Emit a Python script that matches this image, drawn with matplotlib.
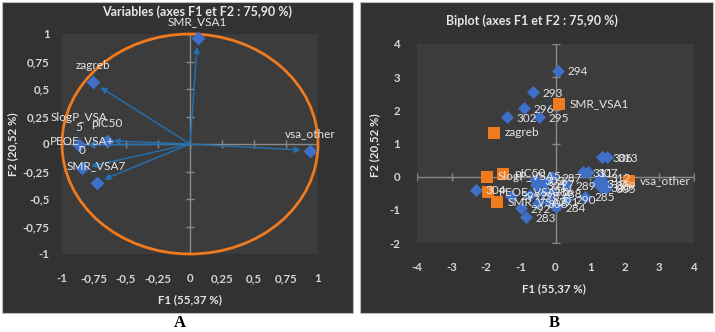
import matplotlib
matplotlib.use('Agg')
import matplotlib.pyplot as plt
from matplotlib.patches import Circle, Rectangle

# ---------------- data ----------------
# Panel A : correlation circle (variables)
var_names = ['SMR_VSA1', 'zagreb', 'vsa_other', 'pIC50', 'SlogP_VSA\n5', 'PEOE_VSA+\n0', 'SMR_VSA7']
var_f1 = [0.06, -0.76, 0.94, -0.65, -0.87, -0.84, -0.73]
var_f2 = [0.96, 0.56, -0.06, 0.03, -0.01, -0.22, -0.35]

a_ticks = [-1, -0.75, -0.5, -0.25, 0, 0.25, 0.5, 0.75, 1]
a_ticklabels = ['-1', '-0,75', '-0,5', '-0,25', '0', '0,25', '0,5', '0,75', '1']

# Panel B : biplot (observations + variables)
obs_labels = ['283', '284', '285', '286', '287', '288', '289', '290', '291', '292',
              '293', '294', '295', '296', '297', '298', '299', '300', '301', '302',
              '303', '304', '305', '306', '307', '308', '309', '310', '311', '312', '313']
obs_f1 = [-0.85, 0.00, 0.85, -0.35, -0.10, -0.10, 0.30, 0.30, -0.20, -1.00,
          -0.65, 0.07, -0.48, -0.91, -0.30, -0.75, -1.29, 1.30, -0.55, -1.40,
          -0.60, -2.30, 1.45, 1.35, 0.94, -0.50, 1.45, 1.20, 0.80, 1.30, 1.50]
obs_f2 = [-1.22, -0.92, -0.60, -0.45, 0.00, -0.50, -0.25, -0.68, -0.75, -0.95,
          2.55, 3.20, 1.79, 2.06, -0.20, -0.55, -0.57, -0.30, -0.25, 1.79,
          -0.10, -0.39, -0.35, 0.60, 0.14, -0.80, -0.25, -0.20, 0.14, -0.02, 0.60]

bvar_names = ['SMR_VSA1', 'zagreb', 'vsa_other', 'pIC50', 'SlogP_VSA5', 'PEOE_VSA+0', 'SMR_VSA7']
bvar_f1 = [0.10, -1.78, 2.12, -1.52, -1.98, -1.95, -1.70]
bvar_f2 = [2.20, 1.33, -0.12, 0.09, 0.00, -0.45, -0.76]

b_xticks = [-4, -3, -2, -1, 0, 1, 2, 3, 4]
b_yticks = [-2, -1, 0, 1, 2, 3, 4]

# ---------------- style ----------------
plt.rcParams['font.family'] = ['Lato', 'DejaVu Sans']
W, H = 715, 332
fig = plt.figure(figsize=(W / 100, H / 100), dpi=100)
fig.patch.set_facecolor('white')

PANEL = '#323232'
PLOT = '#3c3c3c'
TXT = '#e6e6e6'
TICK = '#d4d4d4'
AXL = '#8a8a8a'
BLUE = '#3f6fc6'
ARROW = '#2272b6'
ORANGE = '#f07a1e'


def fx(px):
    return px / W


def fy(py):
    return 1 - py / H


# panel backgrounds
for x0, x1 in [(2, 353), (360, 713)]:
    fig.patches.append(Rectangle((fx(x0), fy(313)), fx(x1) - fx(x0), fy(2) - fy(313),
                                 transform=fig.transFigure, facecolor=PANEL,
                                 edgecolor='#bdbdbd', lw=0.8, zorder=-5))


def style_axes(ax, xt, xtl, yt, ytl, xlim, ylim, xpad, ypad):
    ax.set_facecolor(PLOT)
    for s in ax.spines.values():
        s.set_visible(False)
    ax.set_xlim(*xlim)
    ax.set_ylim(*ylim)
    ax.set_xticks(xt)
    ax.set_xticklabels(xtl)
    ax.set_yticks(yt)
    ax.set_yticklabels(ytl)
    ax.tick_params(length=0, colors=TICK, labelsize=8.3)
    ax.tick_params(axis='x', pad=xpad)
    ax.tick_params(axis='y', pad=ypad)
    for lab in ax.get_xticklabels() + ax.get_yticklabels():
        lab.set_fontweight('bold')
    # axis lines through origin with crossing tick marks
    ax.plot(xlim, [0, 0], color=AXL, lw=1.0, zorder=1)
    ax.plot([0, 0], ylim, color=AXL, lw=1.0, zorder=1)
    ax.plot(xt, [0] * len(xt), ls='none', marker='|', ms=6, mew=1.0, color=AXL, zorder=1)
    ax.plot([0] * len(yt), yt, ls='none', marker='_', ms=6, mew=1.0, color=AXL, zorder=1)


# ---------------- Panel A ----------------
axA = fig.add_axes([fx(62), fy(254), fx(318) - fx(62), fy(34) - fy(254)])
style_axes(axA, a_ticks, a_ticklabels, a_ticks, a_ticklabels, (-1, 1), (-1, 1), 14, 9)
axA.add_patch(Circle((0, 0), 1, fill=False, edgecolor=ORANGE, lw=2.0, zorder=2, clip_on=False))
for x, y in zip(var_f1, var_f2):
    axA.annotate('', xy=(0.92 * x, 0.92 * y), xytext=(0, 0),
                 arrowprops=dict(arrowstyle='-|>', color=ARROW, lw=1.0,
                                 mutation_scale=9, shrinkA=0, shrinkB=0), zorder=3)
axA.scatter(var_f1, var_f2, marker='D', s=50, color=BLUE, zorder=4, linewidths=0, clip_on=False)
for name, x, y in zip(var_names, var_f1, var_f2):
    axA.annotate(name, (x, y), xytext=(0, 8.5), textcoords='offset points',
                 ha='center', va='bottom', color=TXT, fontsize=8.5, linespacing=0.9,
                 zorder=5, annotation_clip=False)

fig.text(fx(197), fy(12), 'Variables (axes F1 et F2 : 75,90 %)', ha='center', va='center',
         color=TXT, fontsize=9, fontweight='bold')
fig.text(fx(190), fy(300), 'F1 (55,37 %)', ha='center', va='center',
         color=TXT, fontsize=8.3, fontweight='bold')
fig.text(fx(13), fy(144), 'F2 (20,52 %)', ha='center', va='center', rotation=90,
         color=TXT, fontsize=8.3, fontweight='bold')
fig.text(fx(180), fy(323), 'A', ha='center', va='center', color='black',
         fontsize=12, fontweight='bold', family='Liberation Serif')

# ---------------- Panel B ----------------
axB = fig.add_axes([fx(417), fy(243), fx(694) - fx(417), fy(44) - fy(243)])
style_axes(axB, b_xticks, [str(v) for v in b_xticks], b_yticks, [str(v) for v in b_yticks],
           (-4, 4), (-2, 4), 14, 12)
axB.scatter(obs_f1, obs_f2, marker='D', s=44, color=BLUE, zorder=3, linewidths=0)
axB.scatter(bvar_f1, bvar_f2, marker='s', s=85, color=ORANGE, zorder=4, linewidths=0)
for name, x, y in zip(obs_labels, obs_f1, obs_f2):
    axB.annotate(name, (x, y), xytext=(7, -1), textcoords='offset points',
                 ha='left', va='center', color=TXT, fontsize=8.5, zorder=5,
                 annotation_clip=False)
for name, x, y in zip(bvar_names, bvar_f1, bvar_f2):
    axB.annotate(name, (x, y), xytext=(8, 0), textcoords='offset points',
                 ha='left', va='center', color=TXT, fontsize=8.5, zorder=5,
                 annotation_clip=False)

fig.text(fx(532), fy(21), 'Biplot (axes F1 et F2 : 75,90 %)', ha='center', va='center',
         color=TXT, fontsize=9, fontweight='bold')
fig.text(fx(554), fy(289), 'F1 (55,37 %)', ha='center', va='center',
         color=TXT, fontsize=8.3, fontweight='bold')
fig.text(fx(375), fy(145), 'F2 (20,52 %)', ha='center', va='center', rotation=90,
         color=TXT, fontsize=8.3, fontweight='bold')
fig.text(fx(554), fy(323), 'B', ha='center', va='center', color='black',
         fontsize=12, fontweight='bold', family='Liberation Serif')

fig.savefig('out.png', dpi=100, facecolor='white')
